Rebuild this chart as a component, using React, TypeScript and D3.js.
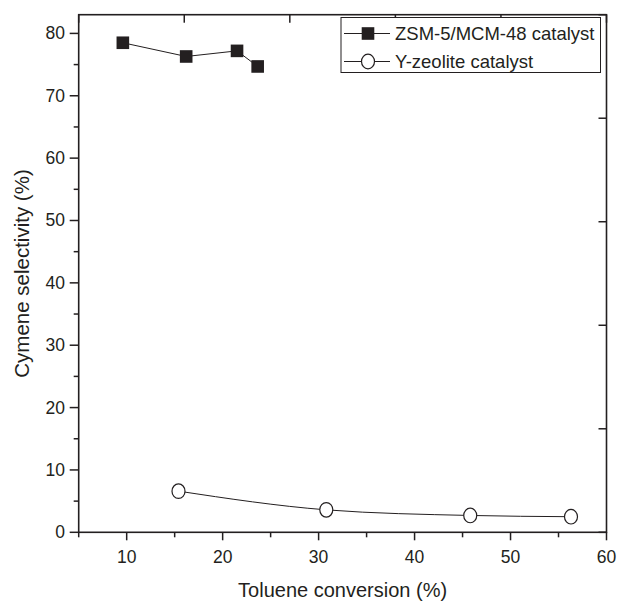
import React from "react";
import * as d3 from "d3";

const zsmX = [9.6, 16.2, 21.5, 23.65];
const zsmY = [78.5, 76.3, 77.2, 74.7];
const yzeoX = [15.4, 30.8, 45.8, 56.3];
const yzeoY = [6.6, 3.6, 2.7, 2.5];
const xTicks = [10, 20, 30, 40, 50, 60];
const yTicks = [0, 10, 20, 30, 40, 50, 60, 70, 80];
const seriesNames = ["ZSM-5/MCM-48 catalyst", "Y-zeolite catalyst"];

const L = 78.7, R = 606.5, T = 14.7, B = 532.3;
const FONT = "Liberation Sans, Arial, sans-serif";
const INK = "#231f20";

export default function App() {
  const x = d3.scaleLinear().domain([5, 60]).range([L, R]);
  const y = d3.scaleLinear().domain([0, 83]).range([B, T]);
  const lineZ = d3
    .line<[number, number]>()
    .x((d) => x(d[0]))
    .y((d) => y(d[1]))
    .curve(d3.curveLinear);
  const lineY = d3
    .line<[number, number]>()
    .x((d) => x(d[0]))
    .y((d) => y(d[1]))
    .curve(d3.curveMonotoneX);
  const zsm: [number, number][] = zsmX.map((v, i) => [v, zsmY[i]]);
  const yz: [number, number][] = yzeoX.map((v, i) => [v, yzeoY[i]]);
  const xMinor = d3.range(5, 61, 5);
  const yMinor = d3.range(0, 81, 5);
  const topTicks = d3.range(0, 6).map((i) => L + ((R - L) * i) / 5);
  const rightTicks = d3.range(0, 6).map((i) => B - ((B - T) * i) / 5);
  const sq = 12.6;

  return (
    <svg
      width={619}
      height={602}
      style={{ position: "absolute", left: 0, top: 0, background: "#fff" }}
      fontFamily={FONT}
    >
      <rect width={619} height={602} fill="#fff" />
      <rect x={L} y={T} width={R - L} height={B - T} fill="none" stroke={INK} strokeWidth={1.6} />
      {xMinor.map((v) => (
        <line key={"xm" + v} x1={x(v)} x2={x(v)} y1={B} y2={B + (v % 10 === 0 ? 8 : 5)} stroke={INK} strokeWidth={1.5} />
      ))}
      {xTicks.map((v) => (
        <text key={"xt" + v} x={x(v)} y={563} textAnchor="middle" fontSize={17.5} fill={INK}>
          {v}
        </text>
      ))}
      {yMinor.map((v) => (
        <line key={"ym" + v} x1={L - (v % 10 === 0 ? 9 : 5)} x2={L} y1={y(v)} y2={y(v)} stroke={INK} strokeWidth={1.5} />
      ))}
      {yTicks.map((v) => (
        <text key={"yt" + v} x={65} y={y(v) + 6} textAnchor="end" fontSize={17.5} fill={INK}>
          {v}
        </text>
      ))}
      {topTicks.map((px, i) => (
        <line key={"tt" + i} x1={px} x2={px} y1={T} y2={T + 8} stroke={INK} strokeWidth={1.5} />
      ))}
      {rightTicks.map((py, i) => (
        <line key={"rt" + i} x1={R - 8} x2={R} y1={py} y2={py} stroke={INK} strokeWidth={1.5} />
      ))}
      <text x={(L + R) / 2} y={597} textAnchor="middle" fontSize={20} fill={INK}>
        Toluene conversion (%)
      </text>
      <text
        transform={`translate(29,${(T + B) / 2}) rotate(-90)`}
        textAnchor="middle"
        fontSize={20.5}
        fill={INK}
      >
        Cymene selectivity (%)
      </text>
      <path d={lineZ(zsm) || ""} fill="none" stroke={INK} strokeWidth={1} />
      <path d={lineY(yz) || ""} fill="none" stroke={INK} strokeWidth={1} />
      {zsm.map((d, i) => (
        <rect key={"s" + i} x={x(d[0]) - sq / 2} y={y(d[1]) - sq / 2} width={sq} height={sq} fill={INK} />
      ))}
      {yz.map((d, i) => (
        <ellipse key={"c" + i} cx={x(d[0])} cy={y(d[1])} rx={6.5} ry={7.3} fill="#fff" stroke={INK} strokeWidth={1.2} />
      ))}
      <rect x={341} y={17.5} width={259.5} height={55} fill="#fff" stroke={INK} strokeWidth={1} />
      <line x1={344} x2={390} y1={33.5} y2={33.5} stroke={INK} strokeWidth={1} />
      <rect x={368 - sq / 2} y={33.5 - sq / 2} width={sq} height={sq} fill={INK} />
      <text x={395} y={40} fontSize={18.5} fill={INK}>
        {seriesNames[0]}
      </text>
      <line x1={344} x2={390} y1={61.5} y2={61.5} stroke={INK} strokeWidth={1} />
      <ellipse cx={368} cy={61.5} rx={6.5} ry={7.3} fill="#fff" stroke={INK} strokeWidth={1.2} />
      <text x={395} y={68} fontSize={18.5} fill={INK}>
        {seriesNames[1]}
      </text>
    </svg>
  );
}
